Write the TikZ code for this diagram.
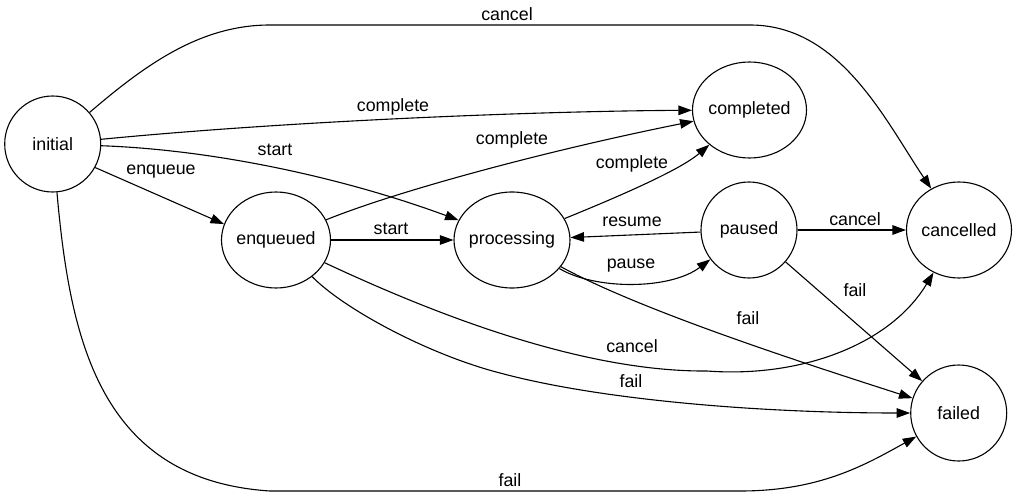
\documentclass[tikz,border=0pt]{standalone}
\usepackage{fontspec}
\setmainfont{Liberation Sans}
\usetikzlibrary{arrows.meta,shapes.geometric}

\begin{document}
\begin{tikzpicture}[x=1pt,y=-1pt,
  state/.style={draw,ellipse,line width=1.1pt,inner sep=-8pt,minimum height=96pt,
    font=\fontsize{17.8pt}{20pt}\selectfont},
  trans/.style={draw,line width=1.1pt,-{Triangle[length=13.5pt,width=9.5pt]}},
  tlabel/.style={font=\fontsize{17.8pt}{20pt}\selectfont,inner sep=0pt}
]
\useasboundingbox (0,0) rectangle (1016,497);

% states
\node[state,minimum width=96pt] (initial) at (52.7,144) {initial};
\node[state,minimum width=109pt] (enqueued) at (276,240) {enqueued};
\node[state,minimum width=116pt] (processing) at (512,240) {processing};
\node[state,minimum width=114pt] (completed) at (749.5,110) {completed};
\node[state,minimum width=96pt] (paused) at (749,230) {paused};
\node[state,minimum width=105pt] (cancelled) at (959,230) {cancelled};
\node[state,minimum width=96pt] (failed) at (958.7,413) {failed};

% from initial
\draw[trans] (initial) .. controls (145,65) and (200,25) .. (270,25) -- (750,25)
  .. controls (840,25) and (885,120) .. (cancelled) node[tlabel] at (507,14) {cancel};
\draw[trans] (initial) .. controls (300,120) and (550,111) .. (completed) node[tlabel] at (393,107) {complete};
\draw[trans] (initial) .. controls (220,150) and (350,180) .. (processing) node[tlabel] at (275,150) {start};
\draw[trans] (initial.-29) -- (enqueued.163) node[tlabel] at (161,172) {enqueue};
\draw[trans] (initial) .. controls (70,340) and (100,480) .. (270,491) -- (740,491)
  .. controls (820,491) and (865,465) .. (failed) node[tlabel] at (510,480) {fail};

% from enqueued
\draw[trans] (enqueued) .. controls (400,190) and (550,150) .. (completed) node[tlabel] at (512,140) {complete};
\draw[trans] (enqueued) -- (processing) node[tlabel] at (391,229) {start};
\draw[trans] (enqueued) .. controls (430,312) and (580,372) .. (707,371)
  .. controls (800,378) and (890,345) .. (cancelled) node[tlabel] at (632,346) {cancel};
\draw[trans] (enqueued) .. controls (345,310) and (430,355) .. (500,373)
  .. controls (600,400) and (760,413) .. (failed) node[tlabel] at (631,381) {fail};

% from processing and paused
\draw[trans] (processing) .. controls (620,196) and (680,170) .. (completed) node[tlabel] at (632,164) {complete};
\draw[trans] (paused) -- (processing) node[tlabel] at (632,222) {resume};
\draw[trans] (processing) .. controls (595,290) and (670,290) .. (paused) node[tlabel] at (631,266) {pause};
\draw[trans] (processing) .. controls (640,310) and (800,362) .. (failed) node[tlabel] at (748,318) {fail};
\draw[trans] (paused) -- (cancelled) node[tlabel] at (855,219) {cancel};
\draw[trans] (paused) -- (failed) node[tlabel] at (855,290) {fail};
\end{tikzpicture}
\end{document}
